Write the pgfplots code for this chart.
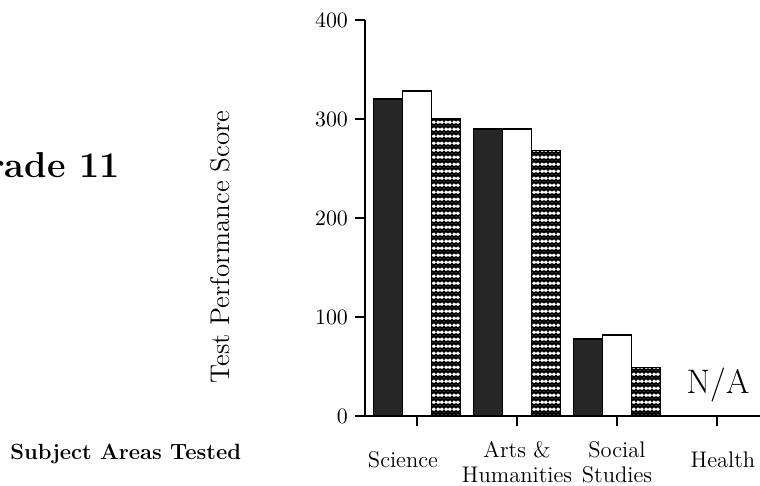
\documentclass[border=0pt]{standalone}
\usepackage{pgfplots}
\pgfplotsset{compat=1.18}
\usetikzlibrary{patterns}
\pgfdeclarepatternformonly{zigrows}{\pgfqpoint{-0.1pt}{-0.1pt}}{\pgfqpoint{4.1pt}{3.6pt}}{\pgfqpoint{4pt}{3.5pt}}{%
  \pgfsetlinewidth{1pt}%
  \pgfpathmoveto{\pgfqpoint{0pt}{0.6pt}}\pgfpathlineto{\pgfqpoint{2pt}{2.6pt}}\pgfpathlineto{\pgfqpoint{4pt}{0.6pt}}%
  \pgfpathmoveto{\pgfqpoint{0pt}{2.6pt}}\pgfpathlineto{\pgfqpoint{2pt}{0.6pt}}\pgfpathlineto{\pgfqpoint{4pt}{2.6pt}}%
  \pgfusepath{stroke}%
}
\begin{document}
\begin{tikzpicture}
\useasboundingbox (0pt,0pt) rectangle (380pt,243pt);
\begin{axis}[
  at={(182.5pt,35pt)}, anchor=south west,
  scale only axis, width=197.5pt, height=198pt,
  xmin=-0.52, xmax=3.43, ymin=0, ymax=400,
  axis x line=bottom, axis y line=left,
  axis line style={line width=1pt, -},
  ytick={0,100,200,300,400},
  xtick={0,1,2,3},
  xticklabels={{\raisebox{2.5pt}{Science}\hspace*{14pt}}, {Arts \&\\Humanities}, {Social\\Studies}, {\hspace*{6pt}\raisebox{2pt}{Health}}},
  tick align=outside,
  major tick length=5pt,
  tick style={line width=0.9pt, black},
  yticklabel style={font=\fontsize{10.5}{12}\selectfont},
  xticklabel style={font=\fontsize{11.3}{12.5}\selectfont, align=center, anchor=center, yshift=-18pt},
  ybar=0pt, bar width=0.29,
  clip=false,
]
\addplot[draw=black, line width=0.8pt, fill=black!85] coordinates {(0,320) (1,290) (2,78)};
\addplot[draw=black, line width=0.8pt, fill=white] coordinates {(0,328) (1,290) (2,82)};
\addplot[draw=black, line width=0.8pt, fill=white, postaction={pattern=zigrows}] coordinates {(0,300) (1,268) (2,49)};
\node[anchor=base, font=\fontsize{17}{20}\selectfont] at (axis cs:3.01,23) {N/A};
\end{axis}
\node[anchor=base east, inner sep=0pt, font=\fontsize{18}{20}\selectfont\bfseries] at (60pt,154pt) {Grade 11};
\node[rotate=90, font=\fontsize{13.5}{15}\selectfont] at (110pt,119.5pt) {Test Performance Score};
\node[anchor=base west, inner sep=0pt, font=\fontsize{11}{14}\selectfont\bfseries] at (5pt,13pt) {Subject Areas Tested};
\end{tikzpicture}
\end{document}
